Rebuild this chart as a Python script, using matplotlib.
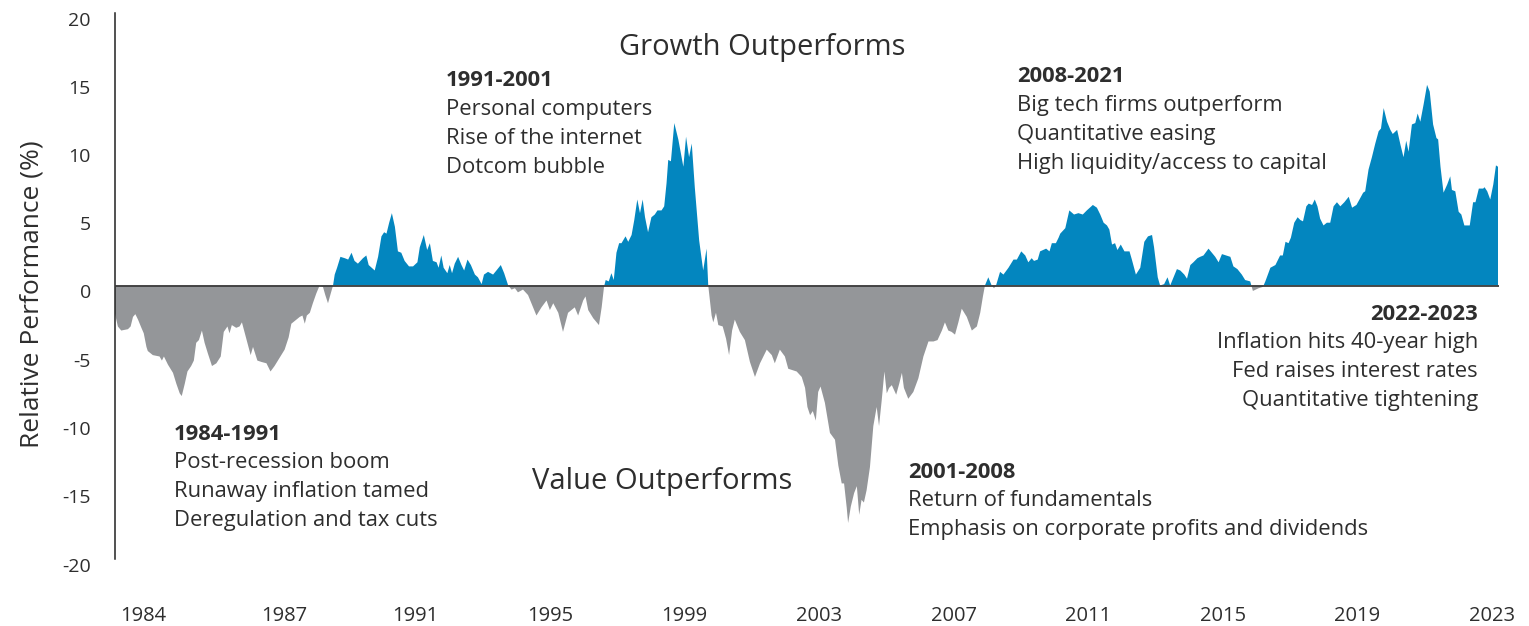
import matplotlib
matplotlib.use("Agg")
import matplotlib.pyplot as plt
from matplotlib.transforms import ScaledTranslation
import numpy as np

plt.rcParams["font.family"] = ["Open Sans", "DejaVu Sans"]

# Growth minus value relative performance (%), sampled along decimal years
years = [
    1982.04, 1982.14, 1982.24, 1982.44, 1982.52, 1982.59, 1982.66, 1982.74, 1982.84, 1982.91,
    1982.99, 1983.03, 1983.18, 1983.38, 1983.45, 1983.51, 1983.63, 1983.78, 1983.88, 1983.98,
    1984.04, 1984.13, 1984.21, 1984.32, 1984.40, 1984.47, 1984.55, 1984.64, 1984.72, 1984.82,
    1984.94, 1985.07, 1985.20, 1985.29, 1985.40, 1985.46, 1985.53, 1985.66, 1985.76, 1985.83,
    1985.96, 1986.09, 1986.16, 1986.29, 1986.41, 1986.56, 1986.68, 1986.80, 1986.95, 1987.10,
    1987.22, 1987.30, 1987.45, 1987.55, 1987.63, 1987.70, 1987.76, 1987.85, 1987.94, 1988.04,
    1988.14, 1988.24, 1988.31, 1988.39, 1988.47, 1988.54, 1988.59, 1988.66, 1988.76, 1988.89,
    1988.99, 1989.09, 1989.18, 1989.28, 1989.43, 1989.53, 1989.60, 1989.78, 1989.88, 1989.98,
    1990.06, 1990.13, 1990.21, 1990.29, 1990.38, 1990.47, 1990.57, 1990.67, 1990.80, 1990.92,
    1991.05, 1991.12, 1991.24, 1991.34, 1991.42, 1991.51, 1991.62, 1991.68, 1991.76, 1991.83,
    1991.94, 1992.01, 1992.08, 1992.16, 1992.26, 1992.36, 1992.44, 1992.54, 1992.64, 1992.76,
    1992.85, 1992.96, 1993.03, 1993.15, 1993.30, 1993.40, 1993.53, 1993.63, 1993.75, 1993.85,
    1993.95, 1994.04, 1994.19, 1994.34, 1994.44, 1994.59, 1994.74, 1994.89, 1994.99, 1995.09,
    1995.24, 1995.38, 1995.53, 1995.73, 1995.83, 1995.98, 1996.05, 1996.13, 1996.28, 1996.45,
    1996.53, 1996.60, 1996.65, 1996.74, 1996.82, 1996.89, 1996.97, 1997.05, 1997.12, 1997.24,
    1997.32, 1997.42, 1997.50, 1997.59, 1997.67, 1997.75, 1997.82, 1997.91, 1998.01, 1998.11,
    1998.19, 1998.31, 1998.39, 1998.46, 1998.51, 1998.59, 1998.69, 1998.81, 1998.96, 1999.04,
    1999.13, 1999.21, 1999.30, 1999.43, 1999.55, 1999.65, 1999.70, 1999.80, 1999.85, 1999.93,
    2000.00, 2000.13, 2000.23, 2000.32, 2000.41, 2000.49, 2000.64, 2000.79, 2000.94, 2001.09,
    2001.24, 2001.44, 2001.59, 2001.68, 2001.83, 2001.98, 2002.08, 2002.33, 2002.48, 2002.58,
    2002.65, 2002.73, 2002.81, 2002.90, 2002.97, 2003.04, 2003.17, 2003.32, 2003.47, 2003.57,
    2003.67, 2003.74, 2003.82, 2003.86, 2003.94, 2004.04, 2004.12, 2004.19, 2004.26, 2004.33,
    2004.41, 2004.51, 2004.61, 2004.71, 2004.78, 2004.86, 2004.94, 2005.01, 2005.08, 2005.16,
    2005.29, 2005.38, 2005.46, 2005.52, 2005.65, 2005.80, 2005.95, 2006.10, 2006.25, 2006.40,
    2006.52, 2006.65, 2006.74, 2006.84, 2006.94, 2007.04, 2007.14, 2007.24, 2007.39, 2007.54,
    2007.69, 2007.79, 2007.87, 2007.93, 2008.03, 2008.13, 2008.20, 2008.26, 2008.38, 2008.48,
    2008.63, 2008.78, 2008.88, 2009.01, 2009.13, 2009.22, 2009.32, 2009.39, 2009.50, 2009.57,
    2009.75, 2009.85, 2009.92, 2010.04, 2010.12, 2010.17, 2010.32, 2010.44, 2010.58, 2010.71,
    2010.84, 2010.96, 2011.14, 2011.26, 2011.36, 2011.46, 2011.56, 2011.63, 2011.71, 2011.80,
    2011.87, 2011.97, 2012.08, 2012.23, 2012.30, 2012.42, 2012.55, 2012.67, 2012.78, 2012.90,
    2012.96, 2013.07, 2013.14, 2013.26, 2013.36, 2013.44, 2013.54, 2013.64, 2013.74, 2013.86,
    2013.94, 2014.04, 2014.13, 2014.25, 2014.33, 2014.43, 2014.58, 2014.68, 2014.78, 2014.88,
    2014.98, 2015.23, 2015.32, 2015.44, 2015.57, 2015.67, 2015.82, 2015.90, 2016.07, 2016.20,
    2016.27, 2016.42, 2016.57, 2016.71, 2016.79, 2016.87, 2016.96, 2017.03, 2017.13, 2017.23,
    2017.31, 2017.39, 2017.49, 2017.56, 2017.66, 2017.74, 2017.82, 2017.90, 2018.00, 2018.10,
    2018.20, 2018.30, 2018.40, 2018.50, 2018.62, 2018.75, 2018.85, 2018.98, 2019.07, 2019.18,
    2019.24, 2019.34, 2019.44, 2019.54, 2019.64, 2019.71, 2019.79, 2019.89, 2019.99, 2020.06,
    2020.19, 2020.29, 2020.38, 2020.46, 2020.53, 2020.63, 2020.73, 2020.80, 2020.88, 2020.98,
    2021.08, 2021.16, 2021.26, 2021.36, 2021.41, 2021.48, 2021.57, 2021.68, 2021.77, 2021.82,
    2021.92, 2022.02, 2022.10, 2022.19, 2022.35, 2022.45, 2022.52, 2022.62, 2022.75, 2022.79,
    2022.87, 2022.96, 2023.05, 2023.13, 2023.19,
]

relative_perf = [
    -1.9, -3.0, -3.3, -3.2, -3.0, -2.3, -2.1, -2.5, -3.1, -3.5,
    -4.5, -4.8, -5.1, -5.2, -5.5, -5.2, -5.8, -6.4, -7.2, -7.9,
    -8.1, -7.2, -6.3, -5.9, -5.5, -4.2, -4.0, -3.3, -4.2, -5.0,
    -5.9, -5.7, -5.2, -3.4, -3.0, -3.5, -2.9, -3.1, -3.0, -2.7,
    -3.9, -5.1, -4.5, -5.5, -5.6, -5.7, -6.3, -5.9, -5.3, -4.7,
    -3.8, -2.8, -2.5, -2.3, -2.2, -2.8, -2.2, -2.0, -1.3, -0.6,
    0.0, -0.1, -0.7, -1.3, -0.6, 0.0, 0.8, 1.3, 2.1, 2.0,
    1.9, 2.4, 1.8, 1.6, 2.0, 2.2, 1.5, 1.1, 2.1, 3.6,
    3.9, 3.8, 4.6, 5.3, 4.3, 2.5, 2.4, 1.8, 1.4, 1.4,
    1.7, 2.8, 3.7, 2.6, 3.1, 1.8, 1.7, 1.3, 2.2, 1.3,
    0.9, 1.5, 0.9, 1.6, 2.1, 1.5, 1.1, 1.9, 1.5, 0.8,
    0.6, 0.1, 0.8, 1.0, 0.8, 1.1, 1.5, 0.9, 0.0, -0.3,
    -0.2, -0.5, -0.3, -0.7, -1.3, -2.2, -1.6, -1.1, -1.8, -1.3,
    -2.0, -3.4, -2.0, -1.6, -2.2, -1.1, -0.8, -1.8, -2.4, -2.9,
    -1.6, -0.1, 0.4, 0.3, 0.9, 0.4, 2.4, 3.1, 3.1, 3.6,
    3.2, 3.7, 4.8, 6.3, 5.3, 6.3, 5.0, 3.9, 5.0, 5.2,
    5.5, 5.5, 5.8, 7.5, 9.2, 9.1, 11.9, 10.7, 8.7, 10.9,
    9.4, 10.4, 7.2, 3.3, 1.1, 2.7, 0.0, -2.2, -2.7, -2.0,
    -2.9, -3.0, -3.9, -5.1, -3.3, -2.5, -3.4, -4.0, -5.6, -6.7,
    -5.7, -4.7, -5.1, -5.7, -4.7, -5.2, -6.1, -6.3, -6.7, -7.5,
    -8.9, -9.5, -9.2, -9.9, -7.8, -7.4, -8.6, -10.8, -11.3, -13.2,
    -14.5, -14.5, -16.3, -17.4, -16.2, -15.2, -14.7, -16.8, -15.7, -15.9,
    -15.0, -13.3, -10.3, -8.9, -10.3, -8.4, -6.3, -7.9, -7.5, -7.3,
    -8.0, -7.2, -6.4, -7.5, -8.3, -7.8, -6.8, -5.2, -4.1, -4.1,
    -4.0, -3.3, -2.7, -3.3, -3.4, -3.6, -2.7, -1.7, -2.3, -3.3,
    -3.0, -2.0, -0.8, 0.0, 0.6, 0.0, -0.2, 0.0, 1.0, 0.8,
    1.3, 1.9, 1.9, 2.5, 2.2, 1.7, 2.0, 1.8, 1.9, 2.5,
    2.7, 2.5, 3.1, 3.1, 3.5, 3.8, 4.2, 5.5, 5.2, 5.3,
    5.2, 5.5, 5.9, 5.7, 5.2, 4.6, 4.4, 4.1, 3.0, 3.1,
    2.6, 3.0, 2.5, 2.5, 1.9, 0.8, 1.3, 3.2, 3.6, 3.7,
    2.8, 0.6, 0.0, 0.1, 0.6, 0.0, 0.6, 1.2, 1.1, 0.8,
    0.5, 1.5, 1.7, 2.0, 2.1, 2.2, 2.7, 2.4, 2.1, 1.7,
    2.3, 2.1, 1.4, 1.2, 0.8, 0.4, 0.3, -0.4, -0.2, -0.1,
    0.3, 1.3, 1.5, 2.2, 2.2, 3.2, 3.1, 3.5, 4.6, 5.0,
    4.8, 4.7, 5.8, 6.0, 5.9, 6.3, 5.8, 4.9, 4.4, 4.6,
    4.6, 5.8, 6.1, 5.8, 6.1, 6.5, 5.7, 5.9, 6.3, 6.8,
    6.9, 8.5, 9.4, 10.4, 11.3, 11.5, 13.0, 12.0, 11.4, 11.1,
    11.4, 10.3, 9.4, 10.6, 9.8, 11.8, 11.9, 12.6, 12.0, 13.3,
    14.7, 14.2, 11.8, 10.8, 10.7, 8.7, 6.8, 7.4, 8.0, 7.0,
    6.9, 5.4, 5.2, 4.4, 4.4, 6.1, 6.1, 7.1, 7.1, 7.2,
    6.9, 6.3, 7.4, 8.8, 8.7,
]

tick_years = [1982.9, 1987.1, 1991, 1995, 1999, 2003, 2007, 2011, 2015, 2019, 2023]
tick_labels = ["1984", "1987", "1991", "1995", "1999", "2003", "2007",
               "2011", "2015", "2019", "2023"]
y_ticks = [-20, -15, -10, -5, 0, 5, 10, 15, 20]

annotations = [
    # (header, lines, x, y of header, alignment)
    ("1984-1991", ["Post-recession boom", "Runaway inflation tamed",
                   "Deregulation and tax cuts"], 174, 434, "left"),
    ("1991-2001", ["Personal computers", "Rise of the internet",
                   "Dotcom bubble"], 446, 81, "left"),
    ("2001-2008", ["Return of fundamentals",
                   "Emphasis on corporate profits and dividends"], 908, 472, "left"),
    ("2008-2021", ["Big tech firms outperform", "Quantitative easing",
                   "High liquidity/access to capital"], 1017, 77, "left"),
    ("2022-2023", ["Inflation hits 40-year high", "Fed raises interest rates",
                   "Quantitative tightening"], 1478, 314, "right"),
]

BLUE = "#0386bf"
GREY = "#949699"
TEXT = "#2e2e2e"

W, H = 1529, 626
fig = plt.figure(figsize=(W / 100, H / 100), dpi=100)
ax = fig.add_axes([114.5 / W, (H - 558.5) / H, (1499 - 114.5) / W, 546 / H])

x = np.array(years)
y = np.array(relative_perf)
ax.fill_between(x, y, 0, where=y >= 0, interpolate=True, color=BLUE, linewidth=0)
ax.fill_between(x, y, 0, where=y <= 0, interpolate=True, color=GREY, linewidth=0)
ax.axhline(0, color="#3c3c3c", linewidth=1.3, zorder=3)

ax.set_xlim(1982.04, 2023.22)
ax.set_ylim(-20, 20)
for side in ("top", "right", "bottom"):
    ax.spines[side].set_visible(False)
ax.spines["left"].set_color("#222222")
ax.spines["left"].set_linewidth(1.1)

ax.set_yticks(y_ticks)
ax.set_yticklabels([str(v) for v in y_ticks])
ax.set_xticks(tick_years)
ax.set_xticklabels(tick_labels)
ax.tick_params(axis="y", length=0, pad=17, labelsize=14, labelcolor=TEXT)
ax.tick_params(axis="x", length=0, pad=34, labelsize=14.5, labelcolor=TEXT)

# value labels sit a few pixels below their tick positions
shift_down = ScaledTranslation(0, -6 / 100, fig.dpi_scale_trans)
for lbl in ax.get_yticklabels():
    lbl.set_transform(lbl.get_transform() + shift_down)

fig.text(32 / W, 1 - 294 / H, "Relative Performance (%)", rotation=90,
         ha="center", va="center", fontsize=19, color=TEXT)

fig.text(762 / W, 1 - 47 / H, "Growth Outperforms", ha="center", va="center",
         fontsize=21, color=TEXT)
fig.text(662 / W, 1 - 481 / H, "Value Outperforms", ha="center", va="center",
         fontsize=21, color=TEXT)

line_step = 28.9
for header, lines, tx, ty, align in annotations:
    fig.text(tx / W, 1 - ty / H, header, ha=align, va="center",
             fontsize=15.8, fontweight="bold", color=TEXT)
    for i, line in enumerate(lines, start=1):
        fig.text(tx / W, 1 - (ty + i * line_step) / H, line, ha=align,
                 va="center", fontsize=15.8, color=TEXT)

fig.savefig("out.png", dpi=100, facecolor="white")
